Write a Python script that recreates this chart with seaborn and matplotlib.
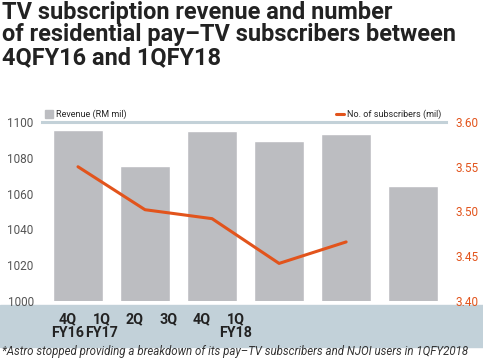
import matplotlib
matplotlib.use("Agg")
import matplotlib.pyplot as plt
from matplotlib.lines import Line2D
from matplotlib.patches import Patch, Rectangle
import numpy as np
import pandas as pd
import seaborn as sns

QUARTERS = ["4QFY16", "1QFY17", "2QFY17", "3QFY17", "4QFY17", "1QFY18"]
REVENUE = [1095.5, 1075.5, 1095.0, 1089.5, 1093.5, 1064.5]
SUBSCRIBERS = [3.550, 3.502, 3.492, 3.442, 3.466]
TICK_LABELS = ["4Q\nFY16", "1Q\nFY17", "2Q", "3Q", "4Q", "1Q\nFY18"]
REV_TICKS = [1000, 1020, 1040, 1060, 1080, 1100]
SUB_TICKS = [3.40, 3.45, 3.50, 3.55, 3.60]

TITLE = "TV subscription revenue and number\nof residential pay\u2013TV subscribers between\n4QFY16 and 1QFY18"
NOTE = "*Astro stopped providing a breakdown of its pay\u2013TV subscribers and NJOI users in 1QFY2018"

BAR = "#BCBDC1"
ORANGE = "#E2541C"
BAND = "#C2D1D9"
TEXT = "#222222"

sns.set_theme(style="white")
plt.rcParams["font.family"] = ["Roboto", "DejaVu Sans"]

W, H = 483, 360
fig = plt.figure(figsize=(W / 100, H / 100), dpi=100)
ax = fig.add_axes([42 / W, 1 - 301 / H, (446 - 42) / W, (301 - 122) / H])
ax.set_facecolor("none")

df = pd.DataFrame({"quarter": QUARTERS, "revenue": REVENUE})
sns.barplot(data=df, x="quarter", y="revenue", color=BAR, saturation=1, width=0.75, ax=ax)
ax.set_ylim(1000, 1100)
ax.set_yticks(REV_TICKS)
ax.set_xlim(-0.537, 5.49)
# labels in the source sit at half-bar spacing, shifted left of the bars
ax.set_xticks(np.arange(len(TICK_LABELS)) * 0.5 - 0.15)
ax.set_xticklabels(TICK_LABELS, fontsize=10.3, fontweight="bold", color=TEXT, linespacing=0.95, va="top")
ax.tick_params(axis="x", length=0, pad=8)
ax.tick_params(axis="y", length=0, pad=6, labelsize=8.5, labelcolor="#555555")
ax.set_xlabel("")
ax.set_ylabel("")
for s in ax.spines.values():
    s.set_visible(False)

ax2 = ax.twinx()
sns.lineplot(x=np.arange(len(SUBSCRIBERS)), y=SUBSCRIBERS, color=ORANGE, lw=2.2, ax=ax2)
ax2.set_ylim(3.40, 3.60)
ax2.set_yticks(SUB_TICKS)
ax2.set_yticklabels([f"{v:.2f}" for v in SUB_TICKS])
ax2.tick_params(axis="y", length=0, pad=7, labelsize=8.5, labelcolor=ORANGE)
ax2.set_xlim(-0.537, 5.49)
for name, s in ax2.spines.items():
    s.set_visible(name == "top")
ax2.spines["top"].set_color("#C3D1D8")
ax2.spines["top"].set_linewidth(2.2)

ax.legend(handles=[Patch(color=BAR, label="Revenue (RM mil)")], loc="lower left",
          bbox_to_anchor=(0, 1.0), frameon=False, fontsize=6.5, handlelength=0.9,
          handleheight=0.9, handletextpad=0.3, borderpad=0, borderaxespad=0.3)
ax2.legend(handles=[Line2D([], [], color=ORANGE, lw=2.2, label="No. of subscribers (mil)")],
           loc="lower right", bbox_to_anchor=(0.995, 1.0), frameon=False, fontsize=6.5,
           handlelength=0.9, handletextpad=0.3, borderpad=0, borderaxespad=0.3)

fig.add_artist(Rectangle((0, 1 - 347 / H), 1, 42 / H, transform=fig.transFigure,
                         color=BAND, zorder=-1))

fig.text(0.004, 0.998, TITLE, ha="left", va="top", fontsize=16.9, fontweight="bold",
         color=TEXT, linespacing=0.98)
fig.text(0.004, 1 - 352 / H, NOTE, ha="left", va="center", fontsize=8.3, style="italic",
         color="#333333")

fig.savefig("out.png", dpi=100)
